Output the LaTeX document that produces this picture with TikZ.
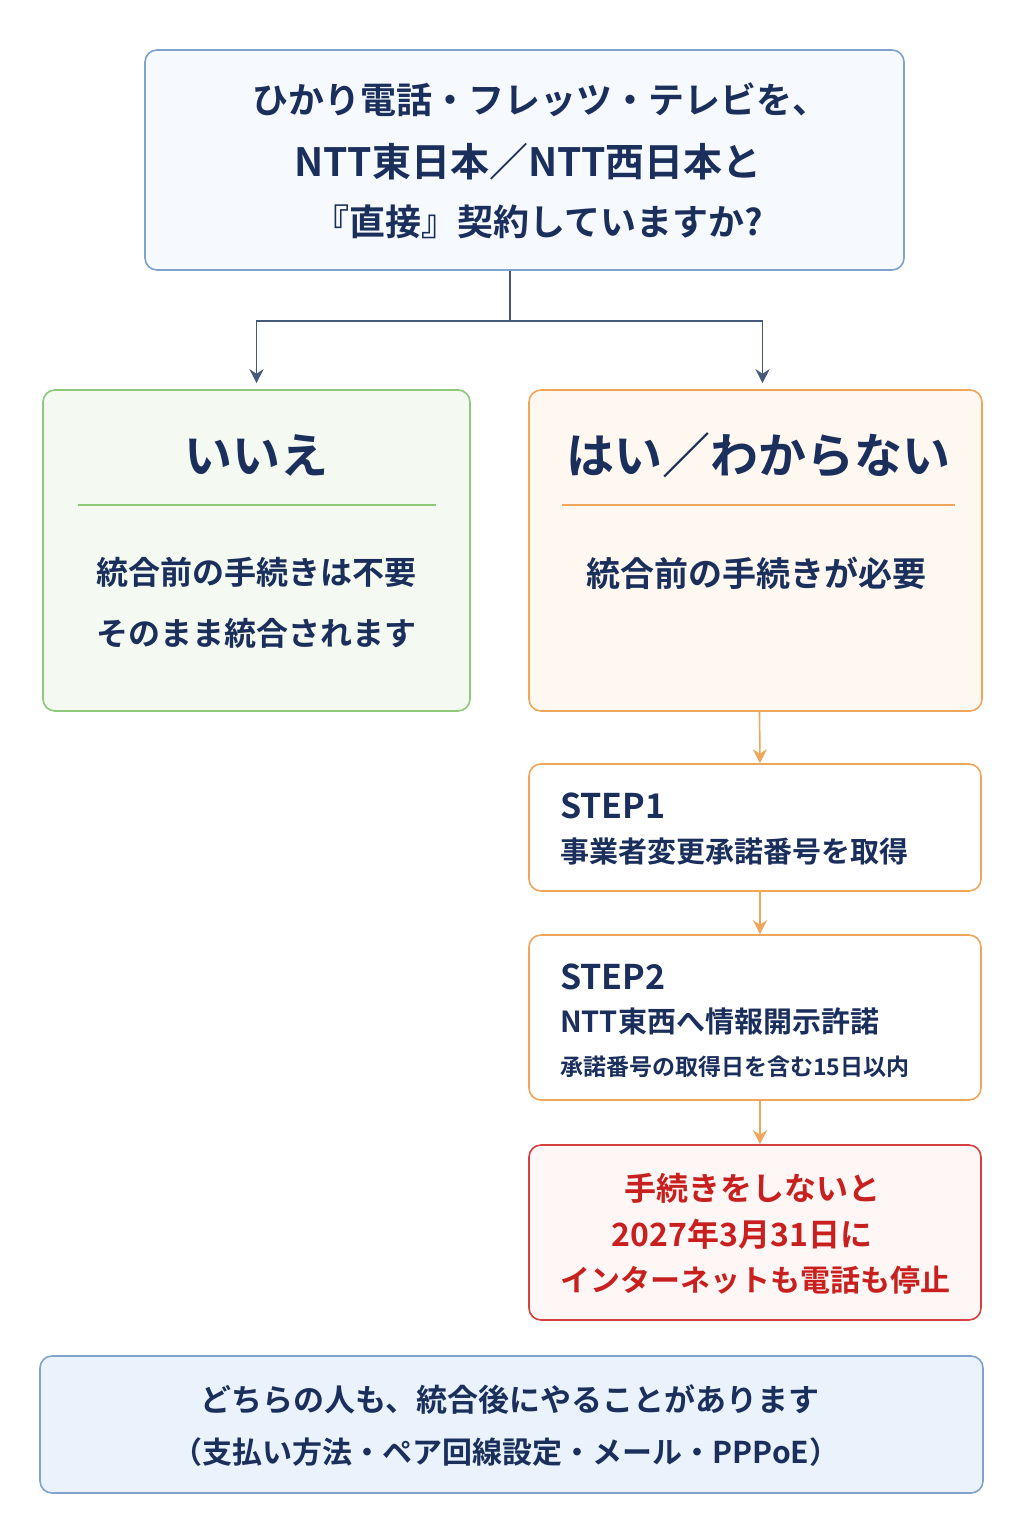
\documentclass[tikz,border=0pt]{standalone}
\usepackage{fontspec}
\setmainfont{Noto Sans CJK JP}[BoldFont={* Bold}]
\usetikzlibrary{arrows.meta, positioning}
\definecolor{navy}{HTML}{1B2F5C}
\definecolor{bluebd}{HTML}{7FA2CF}
\definecolor{bluebg}{HTML}{F6F9FD}
\definecolor{greenbd}{HTML}{8CC97A}
\definecolor{greenbg}{HTML}{F4FAF1}
\definecolor{orangebd}{HTML}{F0A65A}
\definecolor{orangebg}{HTML}{FFF8F0}
\definecolor{redbd}{HTML}{D8403F}
\definecolor{redtx}{HTML}{C8201E}
\definecolor{redbg}{HTML}{FFF7F6}
\definecolor{linegray}{HTML}{45597A}
\definecolor{bottombg}{HTML}{EAF2FC}
\tikzset{
  box/.style={rectangle, rounded corners=6pt, line width=0.8pt, inner sep=0pt},
  txt/.style={text=navy, font=\bfseries},
  arr/.style={line width=0.8pt, -{Stealth[length=7pt, width=7pt]}},
}
\begin{document}
\begin{tikzpicture}[x=0.5pt, y=-0.5pt]
        \useasboundingbox[fill=white] (0,0) rectangle (1024,1536);
        \node[box, draw=bluebd, fill=bluebg, minimum width=379.5pt, minimum height=110pt] (q) at (524.5,160) {};
        \node[box, draw=greenbd, fill=greenbg, minimum width=213.5pt, minimum height=160.5pt] (no) at (256.5,550.5) {};
        \node[box, draw=orangebd, fill=orangebg, minimum width=226.5pt, minimum height=160.5pt] (yes) at (755.5,550.5) {};
        \node[box, draw=orangebd, fill=white, minimum width=226pt, minimum height=63.5pt] (step1) at (755,827.5) {};
        \node[box, draw=orangebd, fill=white, minimum width=226pt, minimum height=82.5pt] (step2) at (755,1017.5) {};
        \node[box, draw=redbd, fill=redbg, minimum width=226pt, minimum height=87.5pt] (warn) at (755,1232.5) {};
        \node[box, draw=bluebd, fill=bottombg, minimum width=471.5pt, minimum height=68.5pt] (after) at (511.5,1424.5) {};

        % question
        \node[txt, font=\bfseries\fontsize{18}{22}\selectfont] at (540,100) {ひかり電話・フレッツ・テレビを、};
        \node[txt, font=\bfseries\fontsize{19.5}{22}\selectfont] at (528,162) {NTT東日本／NTT西日本と};
        \node[txt, font=\bfseries\fontsize{18}{22}\selectfont] at (538,222) {『直接』契約していますか?};

        % answers
        \node[txt, font=\bfseries\fontsize{24}{28}\selectfont] at (256,455) {いいえ};
        \draw[greenbd, line width=0.6pt] (78,505) -- (436,505);
        \node[txt, font=\bfseries\fontsize{16}{20}\selectfont] at (256,572) {統合前の手続きは不要};
        \node[txt, font=\bfseries\fontsize{16}{20}\selectfont] at (256,633) {そのまま統合されます};
        \node[txt, font=\bfseries\fontsize{24}{28}\selectfont] at (758,455) {はい／わからない};
        \draw[orangebd, line width=0.6pt] (562,505) -- (955,505);
        \node[txt, font=\bfseries\fontsize{17}{20}\selectfont] at (756,573) {統合前の手続きが必要};

        % steps
        \node[txt, anchor=west, font=\bfseries\fontsize{17}{20}\selectfont] at (553,806) {STEP1};
        \node[txt, anchor=west, font=\bfseries\fontsize{14.5}{18}\selectfont] at (553,851) {事業者変更承諾番号を取得};
        \node[txt, anchor=west, font=\bfseries\fontsize{17}{20}\selectfont] at (553,977) {STEP2};
        \node[txt, anchor=west, font=\bfseries\fontsize{14.5}{18}\selectfont] at (553,1021) {NTT東西へ情報開示許諾};
        \node[txt, anchor=west, font=\bfseries\fontsize{11.5}{14}\selectfont] at (553,1067) {承諾番号の取得日を含む15日以内};
        \node[txt, text=redtx, font=\bfseries\fontsize{16}{20}\selectfont] at (752,1188) {手続きをしないと};
        \node[txt, text=redtx, font=\bfseries\fontsize{16}{20}\selectfont] at (742,1234) {2027年3月31日に};
        \node[txt, text=redtx, font=\bfseries\fontsize{15}{20}\selectfont] at (755,1280) {インターネットも電話も停止};

        % common
        \node[txt, font=\bfseries\fontsize{15.5}{19}\selectfont] at (510,1400) {どちらの人も、統合後にやることがあります};
        \node[txt, font=\bfseries\fontsize{15}{19}\selectfont] at (506,1452) {（支払い方法・ペア回線設定・メール・PPPoE）};

        % connectors
        \coordinate (split) at (510,321);
        \draw[linegray, line width=0.8pt] (q.south -| split) -- (split);
        \draw[arr, linegray, shorten >=3pt] (split) -| (no.north);
        \draw[arr, linegray, shorten >=3pt] (split) -| ([xshift=3.5pt]yes.north);
        \draw[arr, orangebd] ([xshift=2pt]yes.south) -- ([xshift=2.5pt]step1.north);
        \draw[arr, orangebd] ([xshift=2.5pt]step1.south) -- ([xshift=2.5pt]step2.north);
        \draw[arr, orangebd] ([xshift=2.5pt]step2.south) -- ([xshift=2.5pt]warn.north);
    \end{tikzpicture}
\end{document}
